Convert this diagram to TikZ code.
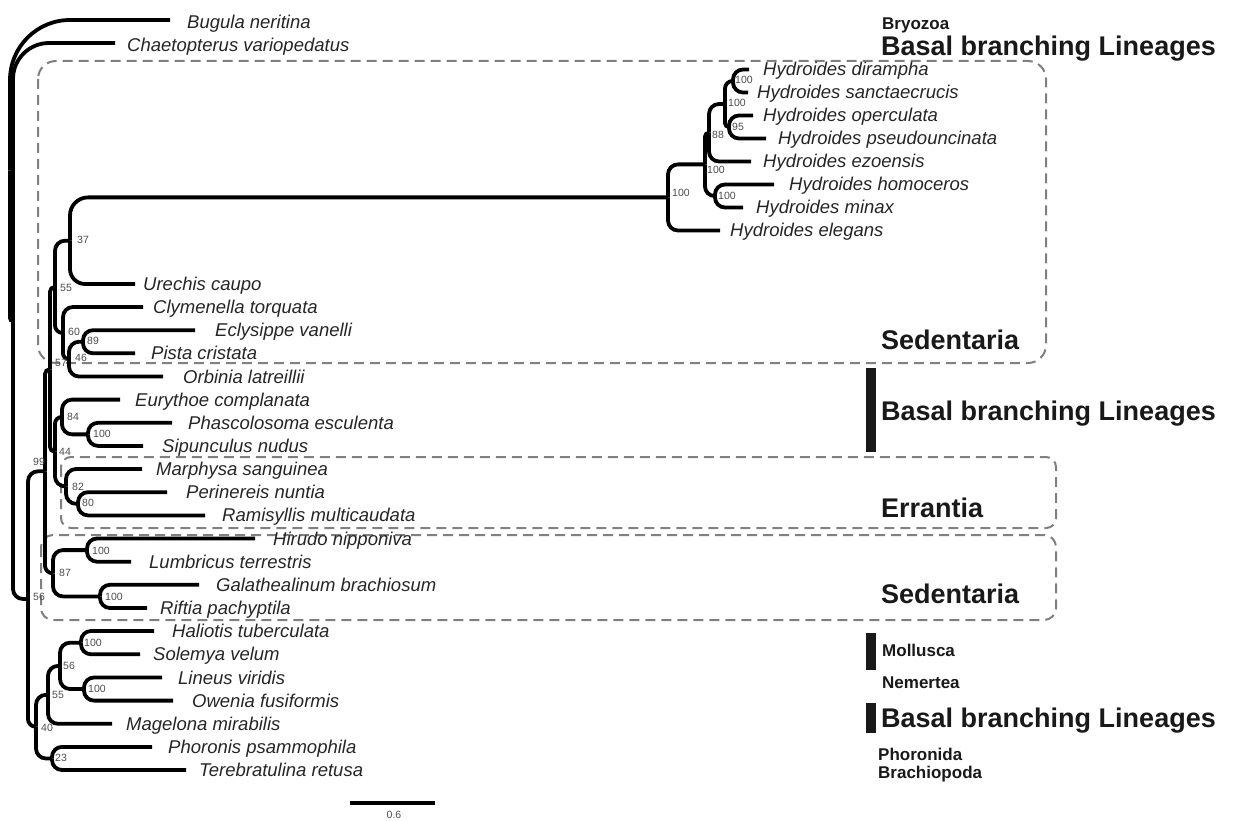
\documentclass[tikz,border=0pt]{standalone}
\usepackage{fontspec}
\setmainfont{Liberation Sans}
\usetikzlibrary{calc}
\tikzset{
  branch/.style={line width=3.8pt, draw=black},
  taxon/.style={anchor=west, inner sep=0pt, font=\fontsize{18.5}{22}\selectfont\itshape, text height=13pt, text depth=0pt, text=black!85},
  boot/.style={anchor=west, inner sep=0pt, font=\fontsize{10.5}{12}\selectfont, text=black!70},
  grp/.style={anchor=base west, inner sep=0pt, font=\fontsize{27}{32}\selectfont\bfseries, text=black!90},
  grps/.style={anchor=base west, inner sep=0pt, font=\fontsize{17}{20}\selectfont\bfseries, text=black!90},
  cladebox/.style={draw=black!50, line width=2pt, dash pattern=on 10pt off 6pt},
  legbar/.style={fill=black!90, draw=none},
}
\newcommand\br[3][10]{\draw[branch] let \p1=(#2), \p2=(#3), \n1={min(#1pt, 0.95*abs(\x2-\x1), 0.95*abs(\y2-\y1))} in [rounded corners=\n1] (#2) |- (#3);}
\begin{document}
\begin{tikzpicture}[x=1pt,y=-1pt]
\useasboundingbox (0,0) rectangle (1235,821);
\fill[white] (0,0) rectangle (1235,821);

% clade boxes
\draw[cladebox, rounded corners=18pt] (38,61) rectangle (1046,363);
\draw[cladebox, rounded corners=10pt] (61,457) rectangle (1056,528);
\draw[cladebox, rounded corners=12pt] (41,535) rectangle (1056,620);

% tips
\coordinate (tBug) at (170,20);
\coordinate (tCha) at (115,43);
\coordinate (tHdi) at (749,69.5);
\coordinate (tHsa) at (748,92.5);
\coordinate (tHop) at (753,115.5);
\coordinate (tHps) at (766,138.5);
\coordinate (tHez) at (751,161.5);
\coordinate (tHho) at (774,184.5);
\coordinate (tHmi) at (743,207.5);
\coordinate (tHel) at (720,230.5);
\coordinate (tUre) at (135,284);
\coordinate (tCly) at (143,307);
\coordinate (tEcl) at (195,330.2);
\coordinate (tPis) at (135,353.3);
\coordinate (tOrb) at (163,376.5);
\coordinate (tEur) at (120,399.6);
\coordinate (tPha) at (172,422.8);
\coordinate (tSip) at (143,445.9);
\coordinate (tMar) at (142,469);
\coordinate (tPer) at (167,492.2);
\coordinate (tRam) at (205,515.4);
\coordinate (tHir) at (255,538.5);
\coordinate (tLum) at (131,561.7);
\coordinate (tGal) at (199,584.8);
\coordinate (tRif) at (147,608);
\coordinate (tHal) at (154,631);
\coordinate (tSol) at (140,654.3);
\coordinate (tLin) at (162,677.5);
\coordinate (tOwe) at (173,700.6);
\coordinate (tMag) at (112,723.8);
\coordinate (tPho) at (152,746.9);
\coordinate (tTer) at (186,770);

% internal nodes
\coordinate (root) at (10,170.5);
\coordinate (ChaN) at (13,321);
\coordinate (N56a) at (28,599);
\coordinate (N99) at (45,471.3);
\coordinate (N57) at (50,369.3);
\coordinate (N55) at (55,286.9);
\coordinate (N37) at (70,240.7);
\coordinate (H100) at (668,197.4);
\coordinate (HA) at (705,164.4);
\coordinate (H88) at (709,132.75);
\coordinate (HB) at (725,104);
\coordinate (Hds) at (733,81);
\coordinate (Hopn) at (729,127);
\coordinate (Hhm) at (715,196);
\coordinate (N60) at (63,333);
\coordinate (N46) at (69,359.1);
\coordinate (N89) at (83,341.75);
\coordinate (N44) at (55,451.7);
\coordinate (N84) at (62,417);
\coordinate (Nph) at (88,434.35);
\coordinate (N82) at (66,486.4);
\coordinate (N80) at (78,503.8);
\coordinate (N87) at (53,573.25);
\coordinate (Nhl) at (87,550.1);
\coordinate (Ngr) at (100,596.4);
\coordinate (N40) at (36,726.7);
\coordinate (N55b) at (48,694.8);
\coordinate (N56b) at (60,665.9);
\coordinate (Nhs) at (81,642.7);
\coordinate (Nlo) at (84,689);
\coordinate (N23) at (52,758.5);

% branches
\br[60]{root}{tBug}
\br{root}{ChaN}
\br[36]{ChaN}{tCha}
\br{ChaN}{N56a}
\br{N56a}{N99}
\br{N56a}{N40}
\br{N99}{N57}
\br{N99}{N87}
\br{N57}{N55}
\br{N57}{N44}
\br{N55}{N37}
\br{N55}{N60}
\br[18]{N37}{H100}
\br[15]{N37}{tUre}
\br{H100}{HA}
\br{H100}{tHel}
\br{HA}{H88}
\br{HA}{Hhm}
\br{H88}{HB}
\br{H88}{tHez}
\br{HB}{Hds}
\br{HB}{Hopn}
\br{Hds}{tHdi}
\br{Hds}{tHsa}
\br{Hopn}{tHop}
\br{Hopn}{tHps}
\br{Hhm}{tHho}
\br{Hhm}{tHmi}
\br{N60}{tCly}
\br{N60}{N46}
\br{N46}{N89}
\br{N46}{tOrb}
\br{N89}{tEcl}
\br{N89}{tPis}
\br{N44}{N84}
\br{N44}{N82}
\br{N84}{tEur}
\br{N84}{Nph}
\br{Nph}{tPha}
\br{Nph}{tSip}
\br{N82}{tMar}
\br{N82}{N80}
\br{N80}{tPer}
\br{N80}{tRam}
\br{N87}{Nhl}
\br{N87}{Ngr}
\br{Nhl}{tHir}
\br{Nhl}{tLum}
\br{Ngr}{tGal}
\br{Ngr}{tRif}
\br{N40}{N55b}
\br{N40}{N23}
\br{N55b}{N56b}
\br{N55b}{tMag}
\br{N56b}{Nhs}
\br{N56b}{Nlo}
\br{Nhs}{tHal}
\br{Nhs}{tSol}
\br{Nlo}{tLin}
\br{Nlo}{tOwe}
\br{N23}{tPho}
\br{N23}{tTer}

% taxon labels
\node[taxon] (lBug) at (187,22) {Bugula neritina};
\node[taxon] (lCha) at (127,45.5) {Chaetopterus variopedatus};
\node[taxon] (lHdi) at (763,69.5) {Hydroides dirampha};
\node[taxon] (lHsa) at (757,92.5) {Hydroides sanctaecrucis};
\node[taxon] (lHop) at (763,115.5) {Hydroides operculata};
\node[taxon] (lHps) at (778,138.5) {Hydroides pseudouncinata};
\node[taxon] (lHez) at (763,161.5) {Hydroides ezoensis};
\node[taxon] (lHho) at (789,184.5) {Hydroides homoceros};
\node[taxon] (lHmi) at (756,207.5) {Hydroides minax};
\node[taxon] (lHel) at (730,230.5) {Hydroides elegans};
\node[taxon] (lUre) at (143,284) {Urechis caupo};
\node[taxon] (lCly) at (153,307) {Clymenella torquata};
\node[taxon] (lEcl) at (215,330.2) {Eclysippe vanelli};
\node[taxon] (lPis) at (151,353.3) {Pista cristata};
\node[taxon] (lOrb) at (183,376.5) {Orbinia latreillii};
\node[taxon] (lEur) at (135,399.6) {Eurythoe complanata};
\node[taxon] (lPha) at (188,422.8) {Phascolosoma esculenta};
\node[taxon] (lSip) at (162,445.9) {Sipunculus nudus};
\node[taxon] (lMar) at (156,469) {Marphysa sanguinea};
\node[taxon] (lPer) at (186,492.2) {Perinereis nuntia};
\node[taxon] (lRam) at (222,515.4) {Ramisyllis multicaudata};
\node[taxon] (lHir) at (273,538.5) {Hirudo nipponiva};
\node[taxon] (lLum) at (149,561.7) {Lumbricus terrestris};
\node[taxon] (lGal) at (216,584.8) {Galathealinum brachiosum};
\node[taxon] (lRif) at (160,608) {Riftia pachyptila};
\node[taxon] (lHal) at (172,631) {Haliotis tuberculata};
\node[taxon] (lSol) at (153,654.3) {Solemya velum};
\node[taxon] (lLin) at (178,677.5) {Lineus viridis};
\node[taxon] (lOwe) at (192,700.6) {Owenia fusiformis};
\node[taxon] (lMag) at (126,723.8) {Magelona mirabilis};
\node[taxon] (lPho) at (168,746.9) {Phoronis psammophila};
\node[taxon] (lTer) at (199,770) {Terebratulina retusa};

% bootstrap labels
\node[boot] (bHds) at (735,80) {100};
\node[boot] (bHB) at (728,103) {100};
\node[boot] (bHop) at (732,127) {95};
\node[boot] (bH88) at (712,135) {88};
\node[boot] (bHA) at (707,170) {100};
\node[boot] (bHhm) at (718,196) {100};
\node[boot] (bH100) at (672,193) {100};
\node[boot] (b37) at (77,240) {37};
\node[boot] (b55) at (60,288) {55};
\node[boot] (b60) at (68,332) {60};
\node[boot] (b89) at (87,341) {89};
\node[boot] (b46) at (75,358) {46};
\node[boot] (b57) at (55,363) {57};
\node[boot] (b84) at (67,417) {84};
\node[boot] (bNph) at (93,434) {100};
\node[boot] (b44) at (59,452) {44};
\node[boot] (b99) at (33,462) {99};
\node[boot] (b82) at (72,487) {82};
\node[boot] (b80) at (82,503) {80};
\node[boot] (bNhl) at (92,551) {100};
\node[boot] (b87) at (59,573) {87};
\node[boot] (b56a) at (33,597) {56};
\node[boot] (bNgr) at (105,597) {100};
\node[boot] (bNhs) at (84,643) {100};
\node[boot] (b56b) at (63,666) {56};
\node[boot] (bNlo) at (88,689) {100};
\node[boot] (b55b) at (52,695) {55};
\node[boot] (b40) at (41,728) {40};
\node[boot] (b23) at (55,758) {23};

% group labels
\node[grps] (gBry) at (882,30) {Bryozoa};
\node[grp] (gBas1) at (881,55.5) {Basal branching Lineages};
\node[grp] (gSed1) at (881,349) {Sedentaria};
\node[grp] (gBas2) at (881,420) {Basal branching Lineages};
\node[grp] (gErr) at (881,517) {Errantia};
\node[grp] (gSed2) at (881,603) {Sedentaria};
\node[grps] (gMol) at (882,656) {Mollusca};
\node[grps] (gNem) at (882,688) {Nemertea};
\node[grp] (gBas3) at (881,727) {Basal branching Lineages};
\node[grps] (gPho) at (878,760) {Phoronida};
\node[grps] (gBra) at (878,778) {Brachiopoda};

% legend bars
\fill[legbar] (866,368) rectangle (876,452);
\fill[legbar] (866,633) rectangle (876,670);
\fill[legbar] (866,703) rectangle (876,733);

% scale bar
\coordinate (sb1) at (350,803);
\coordinate (sb2) at (435,803);
\draw[branch] (sb1) -- (sb2);
\node[boot, anchor=center] (sbl) at (394,815) {0.6};
\end{tikzpicture}
\end{document}
